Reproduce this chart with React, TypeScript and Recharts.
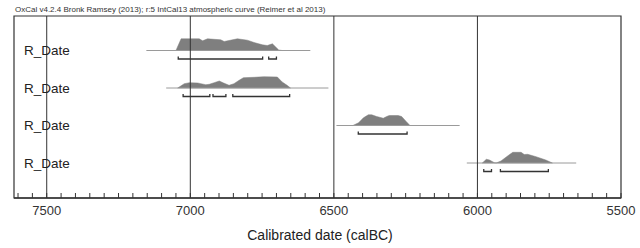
import {
  Area,
  ComposedChart,
  Line,
  ReferenceArea,
  ReferenceLine,
  XAxis,
  YAxis,
} from "recharts";

const TITLE =
  "OxCal v4.2.4 Bronk Ramsey (2013); r:5 IntCal13 atmospheric curve (Reimer et al 2013)";
const X_TITLE = "Calibrated date (calBC)";

const ROW_LABELS = ["R_Date", "R_Date", "R_Date", "R_Date"];

// probability shapes, [calBC, height]
const dist1: [number, number][] = [
  [7050, 0], [7032, 11.7], [6969, 11.7], [6957, 9.7], [6940, 11.7],
  [6894, 10.7], [6882, 9], [6836, 11.7], [6801, 10.3], [6778, 8],
  [6749, 5.7], [6732, 5], [6714, 6.7], [6692, 0.5], [6680, 0],
];
const dist2: [number, number][] = [
  [7044, 0], [7021, 4.3], [7003, 5.3], [6974, 5], [6963, 4.3],
  [6946, 3.3], [6934, 3.7], [6917, 5.3], [6899, 7], [6884, 5],
  [6865, 2.7], [6848, 4.3], [6830, 7.7], [6815, 10.3], [6778, 10.7],
  [6744, 11.3], [6697, 11], [6680, 6], [6663, 2.7], [6651, 0],
];
const dist3: [number, number][] = [
  [6434, 0], [6414, 2.7], [6397, 7.7], [6380, 10.7], [6368, 10.7],
  [6351, 9], [6328, 7.3], [6316, 9], [6307, 10], [6276, 10],
  [6264, 9], [6249, 4.3], [6235, 0],
];
const dist4: [number, number][] = [
  [5983, 0], [5969, 3.7], [5958, 3], [5941, 0.3], [5935, 0],
  [5918, 2], [5895, 7], [5877, 10.7], [5848, 10.7], [5837, 8.5],
  [5825, 8.7], [5796, 6.3], [5762, 3], [5739, 0],
];
const DISTS = [dist1, dist2, dist3, dist4];

// extent of the plotted curve line for each date
const SPANS: [number, number][] = [
  [7153, 6582],
  [7084, 6519],
  [6491, 6062],
  [6037, 5656],
];

// 95.4% ranges
const RANGES: [number, number][][] = [
  [[7042, 6748], [6727, 6700]],
  [[7025, 6932], [6921, 6876], [6852, 6654]],
  [[6415, 6245]],
  [[5978, 5951], [5920, 5753]],
];

const MAJOR_TICKS = [7500, 7000, 6500, 6000, 5500];
const GRID_LINES = [7500, 7000, 6500, 6000];
const X_MIN = 5500;
const X_MAX = 7614;

const Y_TOP = 182;
const ROW_BASE0 = 147.5;
const ROW_GAP = 37.5;

const FONT = "'Liberation Sans', Arial, sans-serif";

const rowBase = (i: number) => ROW_BASE0 - i * ROW_GAP;

const xTicks: number[] = [];
for (let v = X_MIN; v <= 7600; v += 50) xTicks.push(v);

function XTick(props: any) {
  const { x, y, payload } = props;
  const major = MAJOR_TICKS.includes(payload.value);
  return (
    <g>
      <line x1={x} x2={x} y1={y} y2={y - 5} stroke="#333" strokeWidth={1} />
      {major && (
        <text
          x={x}
          y={y + 16.5}
          textAnchor="middle"
          fontSize={13}
          fontFamily={FONT}
          fill="#333"
        >
          {payload.value}
        </text>
      )}
    </g>
  );
}

function RowTick(props: any) {
  const { y, index } = props;
  return (
    <text
      x={24}
      y={y}
      dy="0.35em"
      fontSize={13.5}
      fontFamily={FONT}
      fill="#222"
    >
      {ROW_LABELS[index] ?? ROW_LABELS[0]}
    </text>
  );
}

export default function App() {
  const bases = ROW_LABELS.map((_, i) => rowBase(i));
  return (
    <div
      style={{
        position: "absolute",
        left: 0,
        top: 0,
        width: 640,
        height: 248,
        background: "#fff",
        overflow: "hidden",
      }}
    >
      <div
        style={{
          position: "absolute",
          left: 15,
          top: 5,
          fontSize: 8,
          fontFamily: FONT,
          color: "#333",
          whiteSpace: "nowrap",
          lineHeight: "10px",
        }}
      >
        {TITLE}
      </div>
      <ComposedChart
        width={640}
        height={248}
        margin={{ top: 16, right: 19, bottom: 20, left: 14 }}
      >
        <XAxis
          type="number"
          dataKey="year"
          domain={[X_MIN, X_MAX]}
          reversed
          allowDataOverflow
          ticks={xTicks}
          interval={0}
          tickSize={0}
          tickMargin={0}
          tickLine={false}
          tick={<XTick />}
          height={30}
          axisLine={{ stroke: "#333", strokeWidth: 1.5 }}
        />
        <YAxis
          type="number"
          domain={[0, Y_TOP]}
          allowDataOverflow
          ticks={bases}
          interval={0}
          width={60}
          mirror
          axisLine={false}
          tickLine={false}
          tick={<RowTick />}
        />
        <ReferenceArea
          x1={X_MAX}
          x2={X_MIN}
          y1={0}
          y2={Y_TOP}
          fill="none"
          stroke="#333"
          strokeWidth={1.2}
          ifOverflow="visible"
        />
        {DISTS.map((d, i) => (
          <Area
            key={`d${i}`}
            data={d.map(([year, h]) => ({ year, h }))}
            dataKey={(p: any) => [rowBase(i), rowBase(i) + p.h]}
            type="linear"
            fill="#7f7f7f"
            fillOpacity={1}
            stroke="#7f7f7f"
            strokeWidth={0.5}
            dot={false}
            activeDot={false}
            isAnimationActive={false}
          />
        ))}
        {SPANS.map(([a, b], i) => (
          <Line
            key={`s${i}`}
            data={[
              { year: a, y: rowBase(i) },
              { year: b, y: rowBase(i) },
            ]}
            dataKey="y"
            stroke="#9a9a9a"
            strokeWidth={1}
            dot={false}
            activeDot={false}
            isAnimationActive={false}
          />
        ))}
        {RANGES.flatMap((list, i) =>
          list.map(([a, b], j) => (
            <Line
              key={`r${i}-${j}`}
              data={[
                { year: a, y: rowBase(i) - 6 },
                { year: a, y: rowBase(i) - 8.5 },
                { year: b, y: rowBase(i) - 8.5 },
                { year: b, y: rowBase(i) - 6 },
              ]}
              dataKey="y"
              stroke="#333"
              strokeWidth={1.3}
              dot={false}
              activeDot={false}
              isAnimationActive={false}
            />
          ))
        )}
        {GRID_LINES.map((v) => (
          <ReferenceLine key={v} x={v} stroke="#333" strokeWidth={1} />
        ))}
      </ComposedChart>
      <div
        style={{
          position: "absolute",
          left: 0,
          width: 640,
          top: 226,
          textAlign: "center",
          fontSize: 14,
          fontFamily: FONT,
          color: "#222",
          lineHeight: "18px",
        }}
      >
        {X_TITLE}
      </div>
    </div>
  );
}
